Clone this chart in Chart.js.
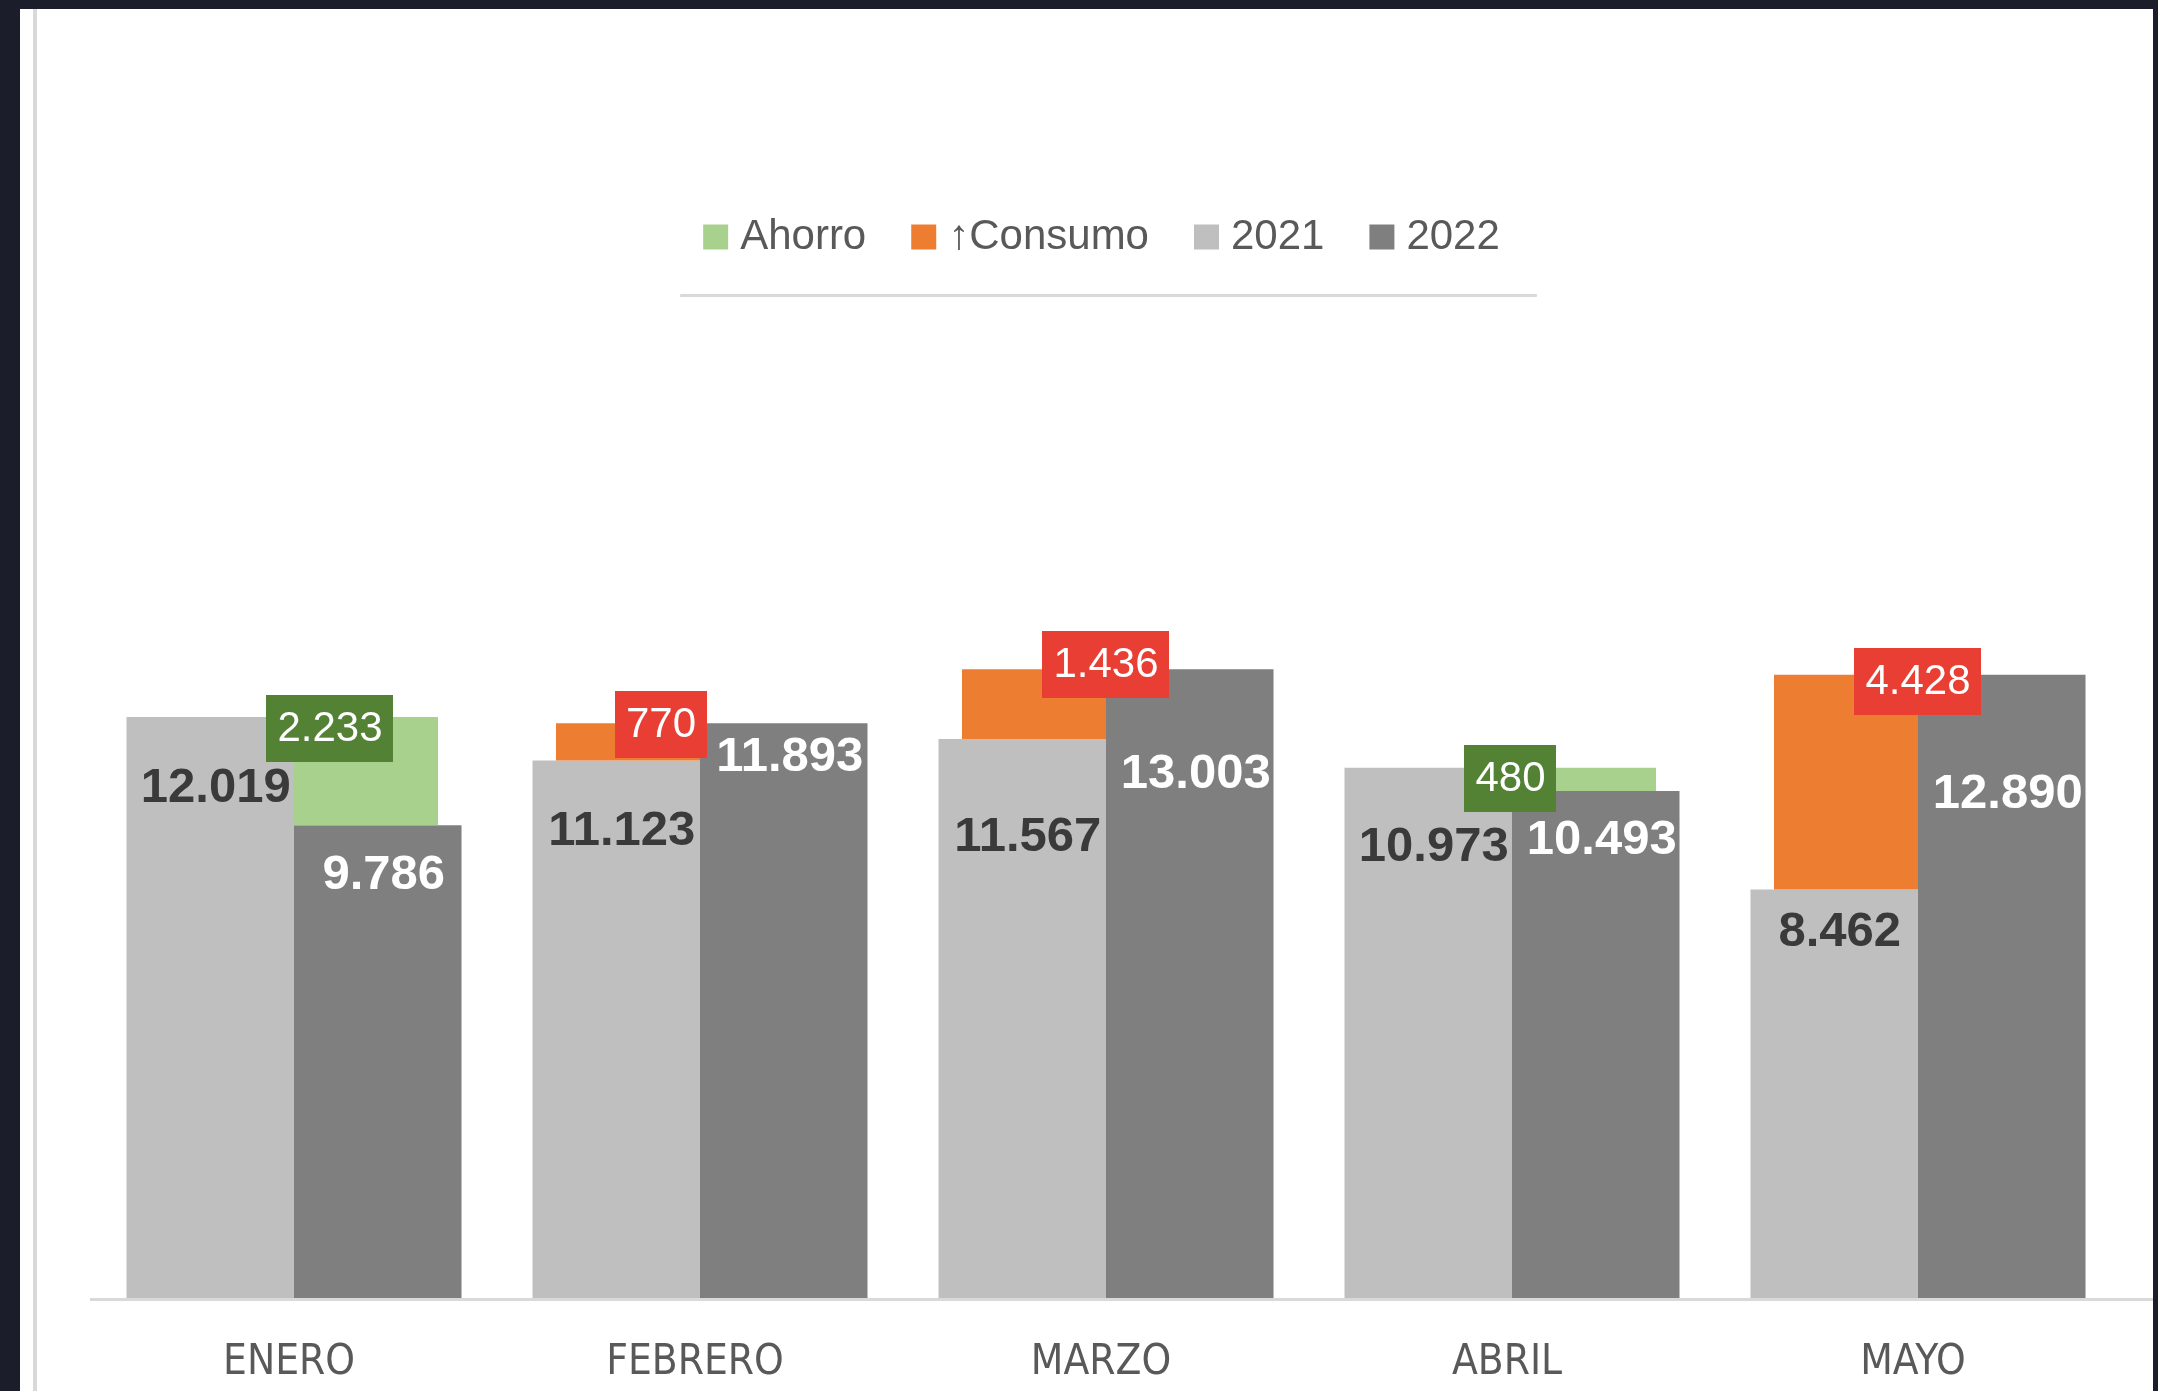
<!DOCTYPE html>
<html>
<head>
<meta charset="utf-8">
<script src="https://cdn.jsdelivr.net/npm/chart.js@4.4.1/dist/chart.umd.min.js"></script>
<style>
  html, body { margin: 0; padding: 0; background: #ffffff; overflow: hidden; }
  #wrap { position: relative; width: 2158px; height: 1391px; background: #ffffff; }
  #c { position: absolute; left: 0; top: 0; z-index: 1; }
  .frame { position: absolute; background: #1b1d2a; z-index: 3; }
  .vline { position: absolute; background: #d9d9d9; z-index: 0; }
</style>
</head>
<body>
<div id="wrap">
  <div class="frame" style="left:0;top:0;width:2158px;height:9px;"></div>
  <div class="frame" style="left:0;top:0;width:20px;height:1391px;"></div>
  <div class="frame" style="left:2153px;top:0;width:5px;height:1391px;"></div>
  <div class="vline" style="left:33px;top:9px;width:4px;height:1382px;"></div>
  <canvas id="c" width="2158" height="1391"></canvas>
</div>
<script>
// ---- data ----
const months = ['ENERO', 'FEBRERO', 'MARZO', 'ABRIL', 'MAYO'];
const values2021 = [12019, 11123, 11567, 10973, 8462];
const values2022 = [9786, 11893, 13003, 10493, 12890];
const ahorro = [2233, null, null, 480, null];
const aumentoConsumo = [null, 770, 1436, null, 4428];
const seriesNames = ['Ahorro', '\u2191Consumo', '2021', '2022'];

// ---- label placement (pixel nudges, not data) ----
const labelPlacement = {
  dy2021: [71, 71, 98.5, 79.5, 42.5],
  dy2022: [50, 34.5, 105, 49.5, 120],
  diffDx: [36, -39, 0, -1.5, 0],
  diffDy: [11.5, 1.5, -4.5, 10.5, 6.5]
};

function fmt(v) {
  return String(v).replace(/\B(?=(\d{3})+(?!\d))/g, '.');
}

const ahorroBars = ahorro.map((d, i) => d == null ? null : [values2022[i], values2022[i] + d]);
const consumoBars = aumentoConsumo.map((d, i) => d == null ? null : [values2021[i], values2021[i] + d]);

const C = {
  ahorro: '#a9d18e', ahorroBox: '#548235',
  consumo: '#ed7d31', consumoBox: '#e83e33',
  y2021: '#bfbfbf', y2022: '#7f7f7f',
  text: '#595959', dark: '#3a3a3a', axis: '#d9d9d9'
};

const FONT = "'Liberation Sans', Arial, sans-serif";
const COND = "'DejaVu Sans Condensed', 'Liberation Sans', sans-serif";

// dataset indices
const DS_CONSUMO = 0, DS_AHORRO = 1, DS_2021 = 2, DS_2022 = 3;

const decorPlugin = {
  id: 'decor',
  afterDatasetsDraw(chart) {
    const ctx = chart.ctx;
    const xs = chart.scales.x, ys = chart.scales.y;
    const y0 = ys.getPixelForValue(0);
    // baseline
    ctx.save();
    ctx.strokeStyle = C.axis;
    ctx.lineWidth = 3;
    ctx.beginPath();
    ctx.moveTo(chart.chartArea.left - 1, y0 - 0.5);
    ctx.lineTo(chart.width, y0 - 0.5);
    ctx.stroke();

    ctx.textAlign = 'center';
    ctx.textBaseline = 'middle';
    const m21 = chart.getDatasetMeta(DS_2021), m22 = chart.getDatasetMeta(DS_2022);
    const mA = chart.getDatasetMeta(DS_AHORRO), mC = chart.getDatasetMeta(DS_CONSUMO);
    months.forEach((m, i) => {
      const b1 = m21.data[i];
      ctx.font = 'bold 49px ' + FONT;
      ctx.fillStyle = C.dark;
      ctx.fillText(fmt(values2021[i]), b1.x + 5.5, b1.y + labelPlacement.dy2021[i]);
      const b2 = m22.data[i];
      ctx.fillStyle = '#ffffff';
      ctx.fillText(fmt(values2022[i]), b2.x + 6, b2.y + labelPlacement.dy2022[i]);
      let val = null, el = null, boxColor = null;
      if (ahorro[i] != null) { val = ahorro[i]; el = mA.data[i]; boxColor = C.ahorroBox; }
      else if (aumentoConsumo[i] != null) { val = aumentoConsumo[i]; el = mC.data[i]; boxColor = C.consumoBox; }
      if (el) {
        ctx.font = '42px ' + FONT;
        const txt = fmt(val);
        const tw = ctx.measureText(txt).width;
        const w = tw + 22, h = 67;
        const cx = xs.getPixelForValue(i) + labelPlacement.diffDx[i];
        const cy = el.y + labelPlacement.diffDy[i];
        ctx.fillStyle = boxColor;
        ctx.fillRect(Math.round(cx - w / 2), Math.round(cy - h / 2), Math.round(w), h);
        ctx.fillStyle = '#ffffff';
        ctx.fillText(txt, cx, cy + 1);
      }
    });
    ctx.restore();
  },
  afterDraw(chart) {
    const hb = chart.legend && chart.legend.legendHitBoxes;
    if (!hb || !hb.length) return;
    const ctx = chart.ctx;
    let minL = Infinity, maxR = -Infinity;
    hb.forEach(h => { minL = Math.min(minL, h.left); maxR = Math.max(maxR, h.left + h.width); });
    const y = hb[0].top + 79.5;
    ctx.save();
    ctx.strokeStyle = C.axis;
    ctx.lineWidth = 3;
    ctx.beginPath();
    ctx.moveTo(minL - 32, y);
    ctx.lineTo(maxR + 37, y);
    ctx.stroke();
    ctx.restore();
  }
};

const diffCat = 288 / 406;
const mainCat = 335 / 406;

new Chart(document.getElementById('c'), {
  type: 'bar',
  data: {
    labels: months,
    datasets: [
      { label: seriesNames[1], data: consumoBars, backgroundColor: C.consumo, stack: 'left',
        categoryPercentage: diffCat, barPercentage: 1, borderWidth: 0 },
      { label: seriesNames[0], data: ahorroBars, backgroundColor: C.ahorro, stack: 'right',
        categoryPercentage: diffCat, barPercentage: 1, borderWidth: 0 },
      { label: seriesNames[2], data: values2021, backgroundColor: C.y2021, stack: 'left',
        categoryPercentage: mainCat, barPercentage: 1, borderWidth: 0 },
      { label: seriesNames[3], data: values2022, backgroundColor: C.y2022, stack: 'right',
        categoryPercentage: mainCat, barPercentage: 1, borderWidth: 0 }
    ]
  },
  options: {
    responsive: false,
    devicePixelRatio: 1,
    animation: false,
    layout: { padding: { top: 162, left: 91, right: 37, bottom: 0 } },
    plugins: {
      tooltip: { enabled: false },
      legend: {
        position: 'top',
        align: 'center',
        labels: {
          usePointStyle: true,
          pointStyle: 'rect',
          boxWidth: 7, boxHeight: 25, padding: 54,
          color: C.text,
          font: { family: FONT, size: 42 },
          sort: (a, b) => seriesNames.indexOf(a.text) - seriesNames.indexOf(b.text)
        }
      }
    },
    scales: {
      x: {
        type: 'category',
        offset: true,
        grid: { display: false, drawTicks: false },
        border: { display: false },
        ticks: { color: C.text, padding: 38, labelOffset: -5, font: { family: COND, size: 42 }, maxRotation: 0, autoSkip: false },
        afterFit: (s) => { s.height = 91; }
      },
      y: {
        display: false,
        stacked: false,
        min: 0,
        max: 21278,
        grid: { display: false }
      }
    }
  },
  plugins: [decorPlugin]
});
</script>
</body>
</html>
